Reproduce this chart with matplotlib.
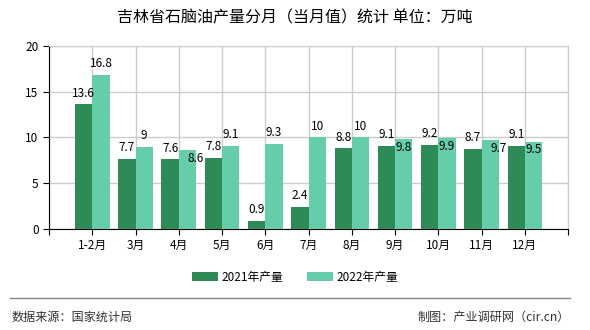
import matplotlib
matplotlib.use('Agg')
import matplotlib.pyplot as plt
import numpy as np

plt.rcParams['font.family'] = ['Noto Sans CJK SC', 'DejaVu Sans']

months = ['1-2月', '3月', '4月', '5月', '6月', '7月', '8月', '9月', '10月', '11月', '12月']
output_2021 = [13.6, 7.7, 7.6, 7.8, 0.9, 2.4, 8.8, 9.1, 9.2, 8.7, 9.1]
output_2022 = [16.8, 9, 8.6, 9.1, 9.3, 10, 10, 9.8, 9.9, 9.7, 9.5]

# 2022 labels that sit inside the bar top, with a small sideways shift
inside_2022 = {2: 0.2, 7: 0, 8: 0, 9: 0.2, 10: 0}

c2021 = '#2e8b57'
c2022 = '#66cdaa'

fig = plt.figure(figsize=(5.9, 3.3), dpi=100)
ax = fig.add_axes([0.083, 0.306, 0.880, 0.555])

x = np.arange(len(months))
w = 0.4
b1 = ax.bar(x - w / 2, output_2021, w, color=c2021, label='2021年产量', zorder=3)
b2 = ax.bar(x + w / 2, output_2022, w, color=c2022, label='2022年产量', zorder=3)

for i, v in enumerate(output_2021):
    ax.annotate(f'{v:g}', (x[i] - w / 2, v), xytext=(0, 3.5), textcoords='offset points',
                ha='center', va='bottom', fontsize=8.5, zorder=5)
for i, v in enumerate(output_2022):
    if i in inside_2022:
        ax.annotate(f'{v:g}', (x[i] + w / 2 + inside_2022[i], v), xytext=(0, -1),
                    textcoords='offset points', ha='center', va='top', fontsize=8.5, zorder=5)
    else:
        ax.annotate(f'{v:g}', (x[i] + w / 2, v), xytext=(0, 3.5), textcoords='offset points',
                    ha='center', va='bottom', fontsize=8.5, zorder=5)

ax.set_xlim(-1, 11)
ax.set_ylim(0, 20)
ax.set_xticks(np.arange(-1, 12))
ax.set_xticklabels([''] + months + [''], fontsize=8.5)
ax.set_yticks([0, 5, 10, 15, 20])
ax.tick_params(axis='y', labelsize=8.5, length=4, color='black')
ax.tick_params(axis='x', length=4, color='black')
ax.grid(True, color='#cccccc', linewidth=1, zorder=0)
for s in ['top', 'right']:
    ax.spines[s].set_color('#cccccc')
for s in ['left', 'bottom']:
    ax.spines[s].set_color('black')

fig.text(0.5, 0.945, '吉林省石脑油产量分月（当月值）统计 单位：万吨', ha='center', va='center', fontsize=11.5)

fig.legend(handles=[b1, b2], loc='center', bbox_to_anchor=(0.5, 0.16), ncol=2, frameon=False,
           fontsize=8.5, handlelength=2.2, handleheight=0.8, columnspacing=2.0, handletextpad=0.3)

fig.add_artist(plt.Line2D([0.017, 0.966], [0.097, 0.097], color='#888888', linewidth=1))
fig.text(0.020, 0.039, '数据来源：国家统计局', ha='left', va='center', fontsize=8.7, color='#333333')
fig.text(0.966, 0.039, '制图：产业调研网（cir.cn）', ha='right', va='center', fontsize=8.7, color='#333333')

fig.savefig('out.png', dpi=100)
plt.close()
